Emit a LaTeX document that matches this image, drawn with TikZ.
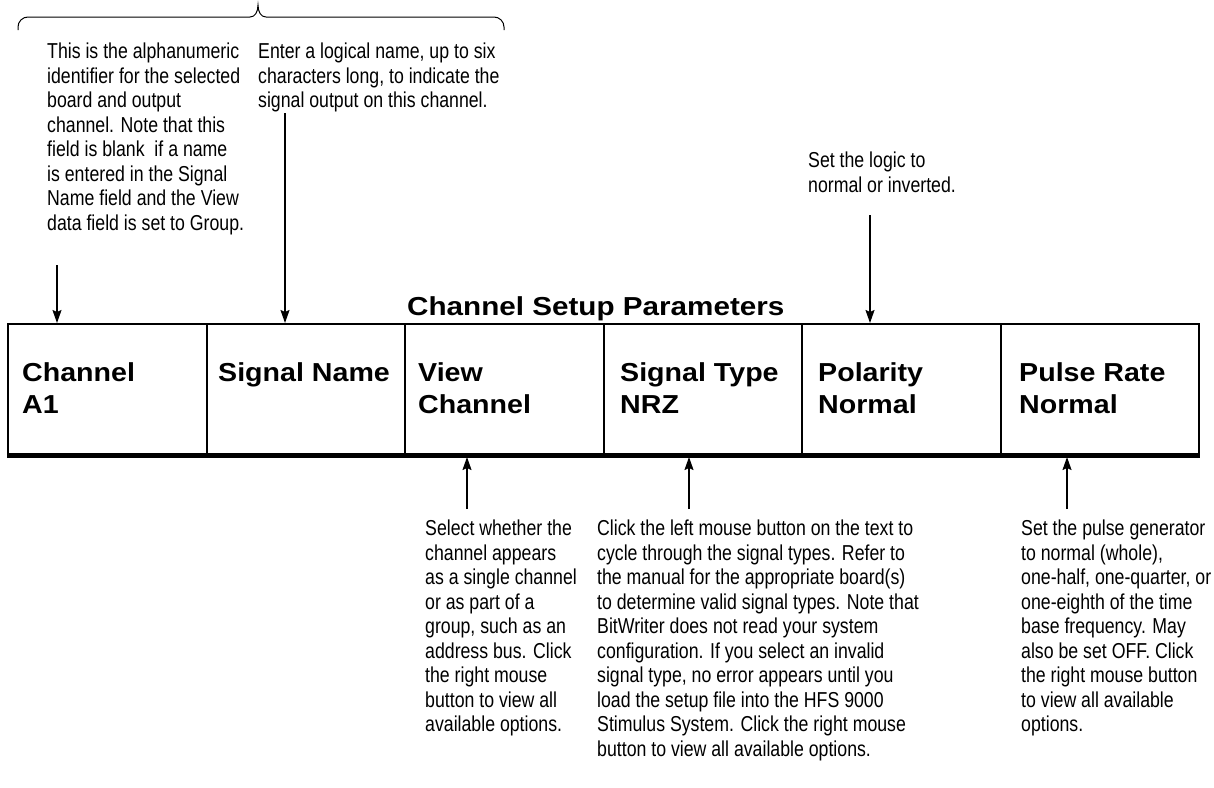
\documentclass[tikz,border=0pt]{standalone}
\usepackage{fontspec}
\setmainfont{Liberation Sans}
\newfontfamily\annfont[FakeStretch=0.82]{Liberation Sans}
\newfontfamily\boxfont[FakeStretch=1.1]{Liberation Sans}
\newfontfamily\titlefont[FakeStretch=1.14]{Liberation Sans}
\usetikzlibrary{arrows.meta}
\begin{document}
\begin{tikzpicture}[x=1pt,y=-1pt,
 ann/.style={anchor=north west,inner sep=0pt,align=left,font=\annfont\fontsize{21.6}{24.5}\selectfont},
 lbl/.style={anchor=north west,inner sep=0pt,align=left,font=\boxfont\bfseries\fontsize{26}{32}\selectfont},
 cell/.style={draw,line width=2pt,minimum width=198.5pt,minimum height=130pt,inner sep=0pt,anchor=north west},
 arr/.style={line width=1.5pt,-{Stealth[length=13pt,width=9pt,inset=2pt]}},
 brace/.style={line width=1pt}]
\useasboundingbox (0,0) rectangle (1214,787);
% brace
\draw[brace,rounded corners=10pt] (18,30) -- (18,17) -- (250,17);
\draw[brace] (250,17) .. controls (255,17) and (258,12) .. (258,5)
  .. controls (258,12) and (261,17) .. (266,17);
\draw[brace,rounded corners=10pt] (266,17) -- (504,17) -- (504,30);
% cells
\node[cell] (c1) at (7,323) {};
\node[cell] (c2) at (205.5,323) {};
\node[cell] (c3) at (404,323) {};
\node[cell] (c4) at (602.5,323) {};
\node[cell] (c5) at (801,323) {};
\node[cell] (c6) at (999.5,323) {};
\draw[line width=4pt] ([yshift=-1pt]c1.south west) -- ([yshift=-1pt]c6.south east);
% title and labels
\node[lbl,anchor=base west,font=\titlefont\bfseries\fontsize{26}{32}\selectfont] (title) at (407,315) {Channel Setup Parameters};
\node[lbl] (l1) at (22,362) {Channel\\A1};
\node[lbl] (l2) at (218,362) {Signal Name};
\node[lbl] (l3) at (418,362) {View\\Channel};
\node[lbl] (l4) at (620,362) {Signal Type\\NRZ};
\node[lbl] (l5) at (818,362) {Polarity\\Normal};
\node[lbl] (l6) at (1019,362) {Pulse Rate\\Normal};
% annotations
\node[ann] (t1) at (47,43) {This is the alphanumeric\\identifier for the selected\\board and output\\channel. Note that this\\field is blank\ \ if a name\\is entered in the Signal\\Name field and the View\\data field is set to Group.};
\node[ann] (t2) at (258,43) {Enter a logical name, up to six\\characters long, to indicate the\\signal output on this channel.};
\node[ann] (t3) at (808,152) {Set the logic to\\normal or inverted.};
\node[ann] (t4) at (425,520) {Select whether the\\channel appears\\as a single channel\\or as part of a\\group, such as an\\address bus. Click\\the right mouse\\button to view all\\available options.};
\node[ann] (t5) at (597,520) {Click the left mouse button on the text to\\cycle through the signal types. Refer to\\the manual for the appropriate board(s)\\to determine valid signal types. Note that\\BitWriter does not read your system\\configuration. If you select an invalid\\signal type, no error appears until you\\load the setup file into the HFS 9000\\Stimulus System. Click the right mouse\\button to view all available options.};
\node[ann] (t6) at (1021,520) {Set the pulse generator\\to normal (whole),\\one-half, one-quarter, or\\one-eighth of the time\\base frequency. May\\also be set OFF. Click\\the right mouse button\\to view all available\\options.};
% arrows
\coordinate (s1) at (57,265);
\coordinate (s2) at (285,113);
\coordinate (s3) at (870,215);
\coordinate (s4) at (467,509);
\coordinate (s5) at (689,509);
\coordinate (s6) at (1067,509);
\draw[arr] (s1) -- (s1 |- c1.north);
\draw[arr] (s2) -- (s2 |- c2.north);
\draw[arr] (s3) -- (s3 |- c5.north);
\draw[arr] (s4) -- ([yshift=-2pt]s4 |- c3.south);
\draw[arr] (s5) -- ([yshift=-2pt]s5 |- c4.south);
\draw[arr] (s6) -- ([yshift=-2pt]s6 |- c6.south);
\end{tikzpicture}
\end{document}
